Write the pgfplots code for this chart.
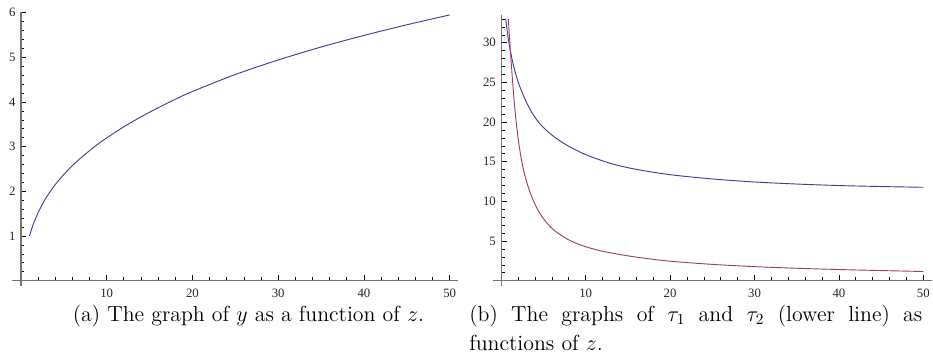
\documentclass[border=0pt]{standalone}
\usepackage{pgfplots}
\pgfplotsset{compat=1.18}
\usepackage{fontspec}
\newfontfamily\tickfont{Liberation Serif}
\definecolor{mblue}{rgb}{0.24,0.24,0.6}
\definecolor{mpurple}{rgb}{0.6,0.24,0.443}
\begin{document}
\begin{tikzpicture}
\useasboundingbox (0,0) rectangle (606.45pt,231.4pt);
\pgfplotsset{mstyle/.style={
  axis lines=middle,
  axis line style={-, draw=black!55, line width=0.9pt},
  tick align=inside,
  major tick length=3.4pt, minor tick length=2.2pt,
  tick style={black, line width=0.45pt},
  ticklabel style={font=\tickfont\fontsize{8.3}{10}\selectfont, text=black!85},
  xticklabel style={yshift=-2pt},
  /pgf/number format/assume math mode=true,
  clip=true,
  anchor=origin,
  xmin=-1, xmax=51,
  xtick={10,20,30,40,50},
  minor xtick={2,4,...,48},
}}
\begin{axis}[mstyle, at={(13.585pt,48.945pt)}, x=5.574pt, y=29.04pt,
  ymin=-0.12, ymax=6.02, ytick={1,2,3,4,5,6},
  minor ytick={0.2,0.4,0.6,0.8,1.2,1.4,1.6,1.8,2.2,2.4,2.6,2.8,3.2,3.4,3.6,3.8,4.2,4.4,4.6,4.8,5.2,5.4,5.6,5.8}]
\addplot[mblue, line width=0.6pt, smooth] coordinates {
(1,1.000) (1.25,1.157) (1.5,1.293) (2,1.52) (2.5,1.71) (3,1.875) (4,2.15)
(5,2.375) (6,2.575) (7,2.75) (8,2.91) (9,3.06) (10,3.195) (12,3.445)
(14,3.667) (16,3.87) (18,4.06) (20,4.235) (25,4.615) (30,4.94) (35,5.23)
(40,5.49) (45,5.728) (50,5.949)};
\end{axis}
\begin{axis}[mstyle, at={(325.85pt,48.945pt)}, x=5.486pt, y=5.1545pt,
  ymin=-0.7, ymax=33.5, ytick={5,10,15,20,25,30},
  minor ytick={1,2,3,4,6,7,8,9,11,12,13,14,16,17,18,19,21,22,23,24,26,27,28,29,31,32,33}]
\addplot[mblue, line width=0.6pt, smooth] coordinates {
(0.52,33.05) (0.6,32.35) (0.72,31.35) (0.85,30.35) (1.0,29.4) (1.2,28.3)
(1.45,27.1) (1.75,25.9) (2.1,24.75) (2.5,23.65) (3.0,22.45) (3.6,21.25)
(4.4,20.0) (5.3,19.0) (6.5,17.95) (8,16.95) (10,15.9) (13,14.77) (16,14.04)
(20,13.37) (25,12.83) (30,12.45) (35,12.19) (40,12.0) (45,11.875) (50,11.78)};
\addplot[mpurple, line width=0.6pt, smooth] coordinates {
(0.83,33.0) (0.93,31.3) (1.03,29.7) (1.15,27.8) (1.31,25.5) (1.45,23.6) (1.62,21.5)
(1.85,19.2) (2.1,17.1) (2.45,14.9) (2.81,13.2) (3.2,11.8) (3.6,10.6) (4,9.6)
(4.5,8.6) (5.3,7.4) (6.16,6.45) (7,5.78) (8,5.15) (9,4.67) (10,4.28) (12,3.71)
(14.86,3.16) (17,2.83) (20,2.46) (24.7,2.08) (29.86,1.78) (35,1.57) (40,1.41)
(45,1.28) (50,1.16)};
\end{axis}
\node[anchor=base, inner sep=0pt, font=\fontsize{14.2}{17}\selectfont] at (161.5pt,22.5pt) {(a) The graph of $y$ as a function of $z$.};
\node[anchor=base west, inner sep=0pt, font=\fontsize{14.2}{17}\selectfont] at (304.85pt,22.5pt) {\makebox[294.5pt][s]{(b) The graphs of $\tau_1$ and $\tau_2$ (lower line) as}};
\node[anchor=base west, inner sep=0pt, font=\fontsize{14.2}{17}\selectfont] at (304.85pt,3.4pt) {functions of $z$.};
\end{tikzpicture}
\end{document}
